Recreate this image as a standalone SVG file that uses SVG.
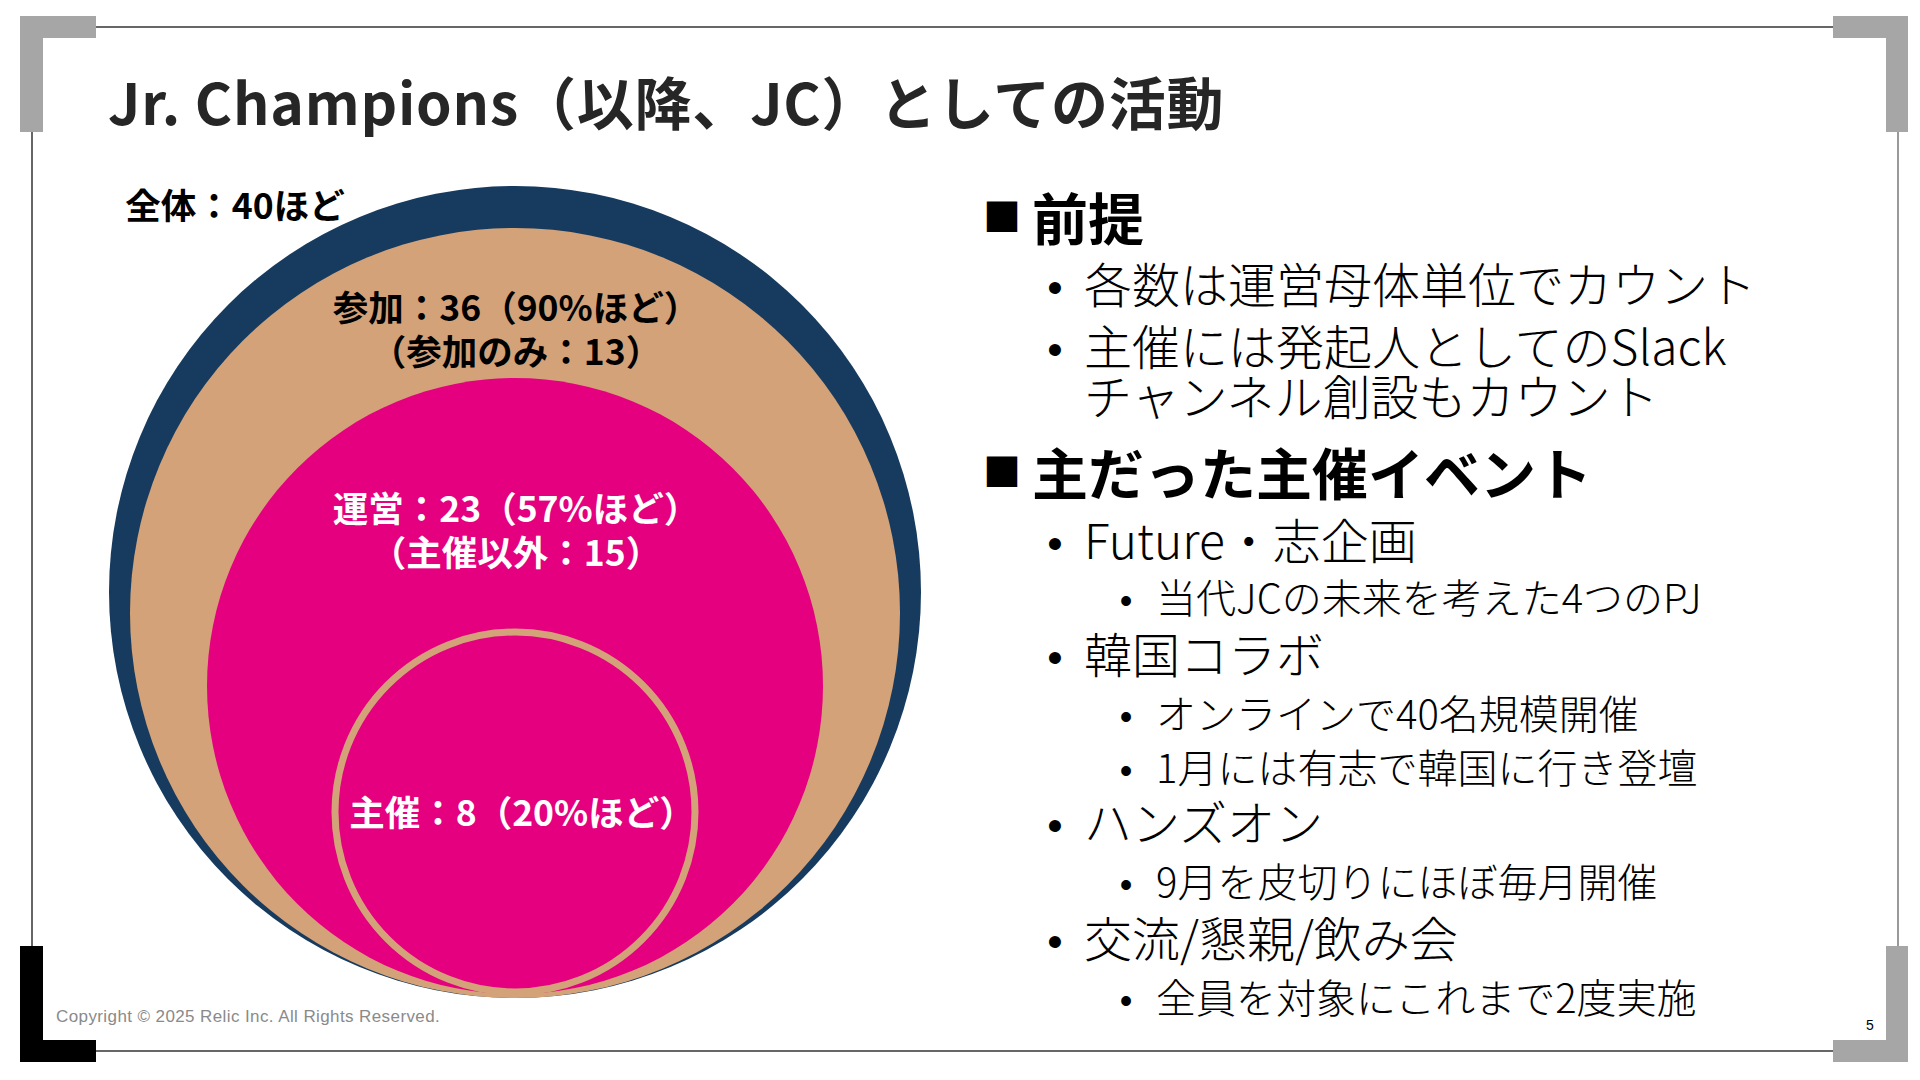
<svg xmlns="http://www.w3.org/2000/svg" width="1920" height="1080" viewBox="0 0 1920 1080">
<style>
.jp{font-family:"Noto Sans CJK JP","Noto Sans",sans-serif}
.title{font-size:57px;font-weight:700;fill:#262626;letter-spacing:0.8px}
.lbl{font-size:35.5px;font-weight:700;text-anchor:middle}
.lbl-k{fill:#000}
.lbl-w{fill:#fff}
.h{font-size:56px;font-weight:700;fill:#000}
.sq{font-size:38px;font-weight:700;fill:#000}
.b1{font-size:48px;font-weight:300;fill:#000}
.b2{font-size:40px;font-weight:300;fill:#000}
.dot{font-family:"Liberation Sans",Arial,sans-serif;fill:#000;text-anchor:middle}
.d1{font-size:44px}
.d2{font-size:36px}
.copy{font-family:"Liberation Sans",Arial,sans-serif;font-size:17px;fill:#8a8a8a;letter-spacing:0.4px}
.pg{font-family:"Liberation Sans",Arial,sans-serif;font-size:14px;fill:#000}
.gray{fill:#a6a6a6}
</style>
<rect width="1920" height="1080" fill="#fff"/>
<g id="frame">
<line x1="96" y1="27" x2="1833" y2="27" stroke="#333" stroke-width="1.5"/>
<line x1="96" y1="1051" x2="1833" y2="1051" stroke="#333" stroke-width="1.5"/>
<line x1="32" y1="132" x2="32" y2="946" stroke="#333" stroke-width="1.5"/>
<line x1="1898" y1="132" x2="1898" y2="946" stroke="#777" stroke-width="1.5"/>
<path class="gray" d="M20,16H96V38H43V132H20Z"/>
<path class="gray" d="M1833,16H1908V132H1886V38H1833Z"/>
<path fill="#000" d="M20,946H43V1040H96V1062H20Z"/>
<path class="gray" d="M1886,946H1908V1062H1833V1040H1886Z"/>
</g>
<g id="title">
<text class="jp title" x="108" y="125">Jr. Champions（以降、JC）としての活動</text>
</g>
<g id="venn">
<g id="node-all">
<circle cx="515" cy="592" r="406" fill="#163b5e"/>
<text class="jp lbl lbl-k" x="235" y="219">全体：40ほど</text>
</g>
<g id="node-participate">
<circle cx="515" cy="613" r="385" fill="#d4a278"/>
<text class="jp lbl lbl-k" x="516" y="321">参加：36（90%ほど）</text>
<text class="jp lbl lbl-k" x="516" y="365">（参加のみ：13）</text>
</g>
<g id="node-operate">
<circle cx="515" cy="686" r="308" fill="#e4007f"/>
<text class="jp lbl lbl-w" x="516" y="522">運営：23（57%ほど）</text>
<text class="jp lbl lbl-w" x="516" y="566">（主催以外：15）</text>
</g>
<g id="node-host">
<circle cx="515" cy="812" r="180" fill="#e4007f" stroke="#d4a278" stroke-width="7"/>
<text class="jp lbl lbl-w" x="522" y="826">主催：8（20%ほど）</text>
</g>
</g>
<g id="connectors"/>
<g id="notes">
<text class="jp sq" x="983" y="231">■</text>
<text class="jp h" x="1032" y="240">前提</text>
<text class="dot d1" x="1055" y="303">•</text>
<text class="jp b1" x="1084" y="303">各数は運営母体単位でカウント</text>
<text class="dot d1" x="1055" y="365">•</text>
<text class="jp b1" x="1084" y="365">主催には発起人としてのSlack</text>
<text class="jp b1" x="1084" y="415">チャンネル創設もカウント</text>
<text class="jp sq" x="983" y="486">■</text>
<text class="jp h" x="1032" y="495">主だった主催イベント</text>
<text class="dot d1" x="1055" y="559">•</text>
<text class="jp b1" x="1084" y="559">Future・志企画</text>
<text class="dot d2" x="1126" y="613">•</text>
<text class="jp b2" x="1156" y="613">当代JCの未来を考えた4つのPJ</text>
<text class="dot d1" x="1055" y="673">•</text>
<text class="jp b1" x="1084" y="673">韓国コラボ</text>
<text class="dot d2" x="1126" y="729">•</text>
<text class="jp b2" x="1156" y="729">オンラインで40名規模開催</text>
<text class="dot d2" x="1126" y="783">•</text>
<text class="jp b2" x="1156" y="783">1月には有志で韓国に行き登壇</text>
<text class="dot d1" x="1055" y="841">•</text>
<text class="jp b1" x="1084" y="841">ハンズオン</text>
<text class="dot d2" x="1126" y="897">•</text>
<text class="jp b2" x="1156" y="897">9月を皮切りにほぼ毎月開催</text>
<text class="dot d1" x="1055" y="957">•</text>
<text class="jp b1" x="1084" y="957">交流/懇親/飲み会</text>
<text class="dot d2" x="1126" y="1013">•</text>
<text class="jp b2" x="1156" y="1013">全員を対象にこれまで2度実施</text>
</g>
<g id="footer">
<text class="copy" x="56" y="1022">Copyright © 2025 Relic Inc. All Rights Reserved.</text>
<text class="pg" x="1866" y="1030">5</text>
</g>
</svg>
